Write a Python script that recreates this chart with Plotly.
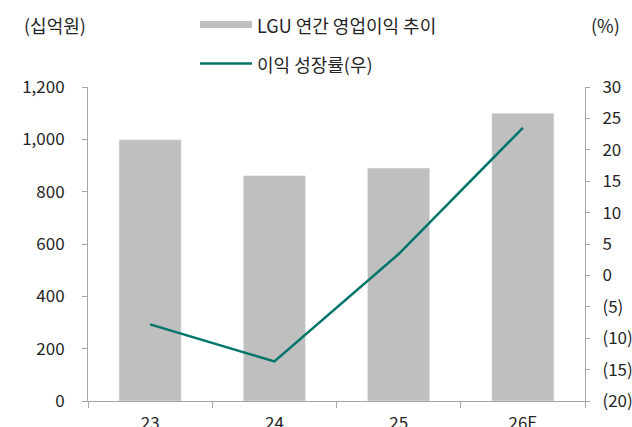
import plotly.graph_objects as go

categories = ["23", "24", "25", "26E"]
op_income = [998, 861, 890, 1100]          # 십억원
growth = [-7.8, -13.7, 3.4, 23.5]          # %

left_ticks = [0, 200, 400, 600, 800, 1000, 1200]
left_labels = ["0", "200", "400", "600", "800", "1,000", "1,200"]
right_ticks = [-20, -15, -10, -5, 0, 5, 10, 15, 20, 25, 30]
right_labels = ["(20)", "(15)", "(10)", "(5)", "0", "5", "10", "15", "20", "25", "30"]

FONT = "Noto Sans CJK KR"
TXT = "#262626"
AX = "#a6a6a6"
BAR = "#bfbfbf"
LINE = "#00766a"

W, H = 632, 427
# on-screen plot area: x 88..585, y 87..401
L, T = 88, 87
R = W - 585
B = H - 401
pw, ph = W - L - R, H - T - B

def px(x):
    return (x - L) / pw

def py(y):
    return (H - B - y) / ph

fig = go.Figure()
fig.add_trace(go.Bar(x=categories, y=op_income, marker_color=BAR, width=0.5,
                     name="LGU 연간 영업이익 추이", yaxis="y"))
fig.add_trace(go.Scatter(x=categories, y=growth, mode="lines",
                         line=dict(color=LINE, width=2.5),
                         name="이익 성장률(우)", yaxis="y2"))

fig.update_layout(
    width=W, height=H,
    margin=dict(l=L, r=R, t=T, b=B, autoexpand=False),
    paper_bgcolor="white", plot_bgcolor="white",
    showlegend=False,
    font=dict(family=FONT, size=17, color=TXT),
    xaxis=dict(type="category", range=[-0.5, 3.5], showline=True, linecolor=AX,
               linewidth=1, ticks="outside", tickson="boundaries", ticklen=6,
               tickcolor=AX, showgrid=False, zeroline=False, automargin=False,
               tickfont=dict(size=17, color=TXT), ticklabelstandoff=7),
    yaxis=dict(range=[0, 1200], tickvals=left_ticks, ticktext=left_labels,
               showline=True, linecolor=AX, linewidth=1, ticks="outside",
               ticklen=5, tickcolor=AX, showgrid=False, zeroline=False,
               automargin=False,
               tickfont=dict(size=17, color=TXT), ticklabelstandoff=14),
    yaxis2=dict(range=[-20, 30], tickvals=right_ticks, ticktext=right_labels,
                overlaying="y", side="right", showline=True, linecolor=AX,
                linewidth=1, ticks="outside", ticklen=4, tickcolor=AX,
                showgrid=False, zeroline=False, automargin=False,
                tickfont=dict(size=17, color=TXT), ticklabelstandoff=9),
)

# legend markers
fig.add_shape(type="rect", xref="paper", yref="paper",
              x0=px(200), x1=px(252), y0=py(28), y1=py(21),
              fillcolor=BAR, line=dict(width=0))
fig.add_shape(type="line", xref="paper", yref="paper",
              x0=px(200), x1=px(252), y0=py(63.5), y1=py(63.5),
              line=dict(color=LINE, width=2.5))

ann = dict(xref="paper", yref="paper", showarrow=False,
           font=dict(family=FONT, size=18, color=TXT), yanchor="middle")
fig.add_annotation(text="LGU 연간 영업이익 추이", x=px(255), y=py(24.5), xanchor="left", **ann)
fig.add_annotation(text="이익 성장률(우)", x=px(255), y=py(63.5), xanchor="left", **ann)
fig.add_annotation(text="(십억원)", x=px(22), y=py(24.5), xanchor="left", **ann)
fig.add_annotation(text="(%)", x=px(622), y=py(24.5), xanchor="right", **ann)

fig.write_html("out.html", config={"displayModeBar": False},
               post_script="document.body.style.margin='0';document.body.style.overflow='hidden';")
